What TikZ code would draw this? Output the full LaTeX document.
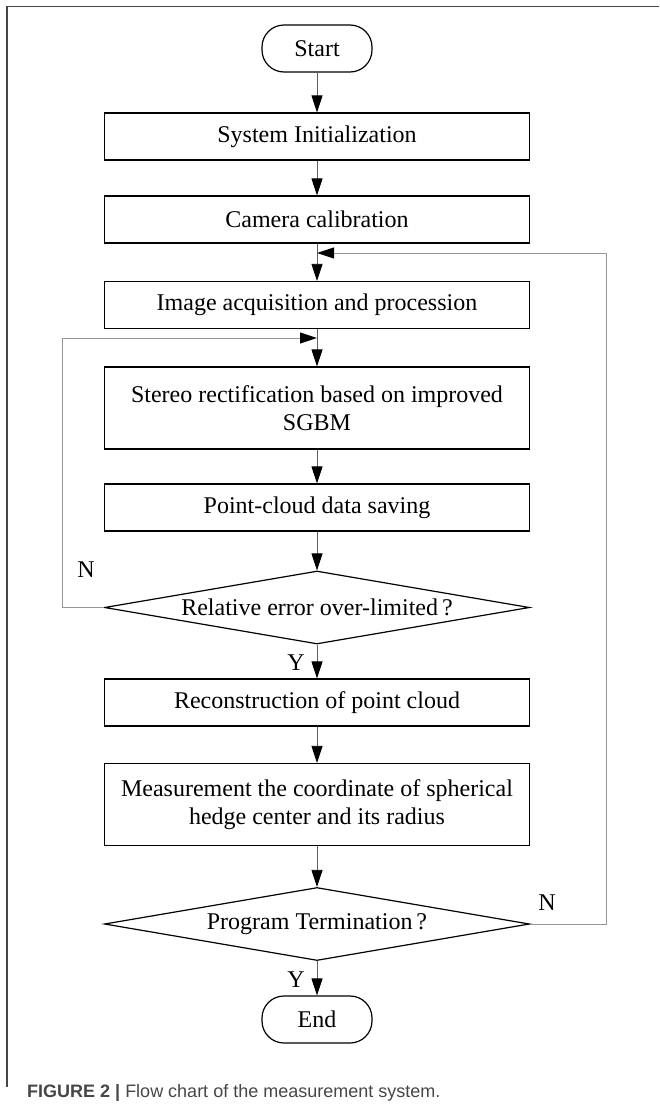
\documentclass[tikz,border=0pt]{standalone}
\usepackage{fontspec}
\setmainfont{Liberation Serif}
\setsansfont{Liberation Sans}
\usetikzlibrary{shapes.geometric,arrows.meta,positioning}
\definecolor{linegray}{RGB}{95,95,95}
\definecolor{loopgray}{RGB}{150,150,150}
\definecolor{framegray}{RGB}{70,70,70}
\definecolor{capgray}{RGB}{70,70,70}
\newcommand{\chartfont}{\fontsize{24}{28}\selectfont}
\tikzset{
    proc/.style={rectangle, draw=black, line width=1.2pt, minimum width=425pt, minimum height=47pt, inner sep=0pt, align=center, font=\chartfont},
    proctwo/.style={proc, minimum height=82pt},
    term/.style={rectangle, rounded corners=22pt, draw=black, line width=1.2pt, minimum width=110pt, minimum height=47pt, inner sep=0pt, font=\chartfont},
    decide/.style={diamond, aspect=5.8, draw=black, line width=1.2pt, minimum width=425pt, minimum height=73pt, inner sep=0pt, font=\chartfont},
    flow/.style={draw=linegray, line width=0.8pt, -{Triangle[length=17pt, width=11pt, color=black]}},
    back/.style={draw=loopgray, line width=1pt, -{Triangle[length=17pt, width=11pt, color=black]}},
    yn/.style={font=\chartfont},
}
\begin{document}
\begin{tikzpicture}[x=1pt, y=-1pt]
    \useasboundingbox (0,0) rectangle (659,1114);

    % frame
    \draw[framegray, line width=1.2pt] (7,1087) -- (7,6.5) -- (659,6.5);

    % main column
    \node[term] (start) at (317,48.5) {Start};
    \node[proc] (init) at (317,136.5) {System Initialization};
    \node[proc] (calib) at (317,219.5) {Camera calibration};
    \node[proc] (acq) at (317,305) {Image acquisition and procession};
    \node[proctwo] (stereo) at (317,408) {Stereo rectification based on improved\\SGBM};
    \node[proc] (save) at (317,507.5) {Point-cloud data saving};
    \node[decide] (err) at (317,607.5) {Relative error over-limited\,?};
    \node[proc] (recon) at (317,702.5) {Reconstruction of point cloud};
    \node[proctwo] (meas) at (317,804.5) {Measurement the coordinate of spherical\\hedge center and its radius};
    \node[decide] (prog) at (317,924) {Program Termination\,?};
    \node[term] (stop) at (317,1019.5) {End};

    \draw[flow] (start) -- (init);
    \draw[flow] (init) -- (calib);
    \draw[flow] (calib) -- (acq);
    \draw[flow] (acq) -- (stereo);
    \draw[flow] (stereo) -- (save);
    \draw[flow] (save) -- (err);
    \draw[flow] (err) -- (recon);
    \draw[flow] (recon) -- (meas);
    \draw[flow] (meas) -- (prog);
    \draw[flow] (prog) -- (stop);

    % loops back
    \coordinate (lcorner) at (62,338);
    \coordinate (lin) at (317,338);
    \draw[back] (err.west) -| (lcorner) -- (lin);
    \coordinate (rcorner) at (606,253);
    \coordinate (rin) at (317,253);
    \draw[back] (prog.east) -| (rcorner) -- (rin);

    % branch labels
    \node[yn] (errN) at (86,570) {N};
    \node[yn] (errY) at (296,663) {Y};
    \node[yn] (progN) at (547,903) {N};
    \node[yn] (progY) at (296,980) {Y};

    % caption
    \node[anchor=west, inner sep=0pt, font=\sffamily\fontsize{18}{21}\selectfont, text=capgray] (cap) at (27,1093)
        {\textbf{FIGURE 2 |} Flow chart of the measurement system.};
\end{tikzpicture}
\end{document}
